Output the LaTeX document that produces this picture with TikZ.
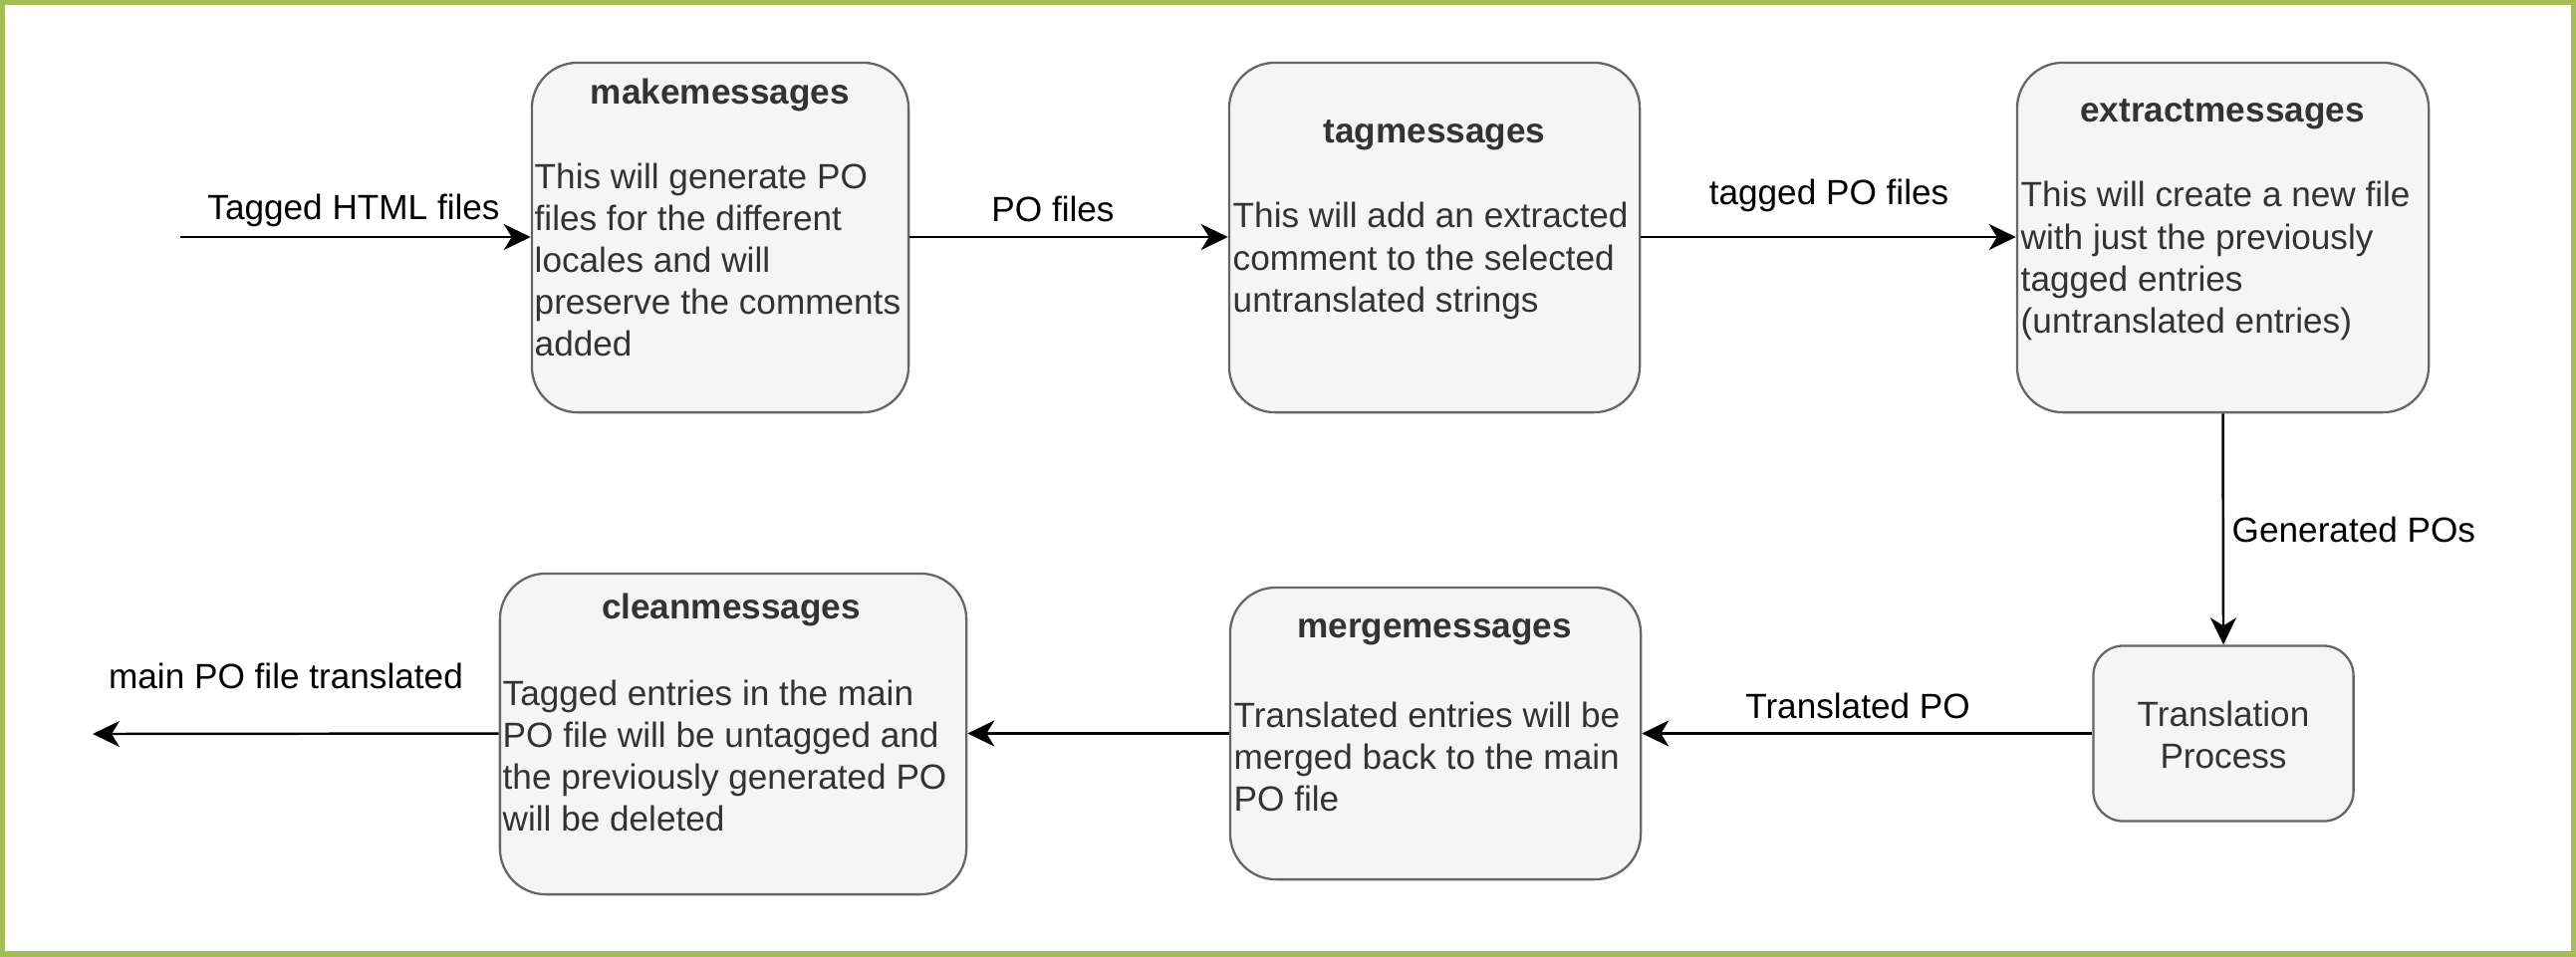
\documentclass[tikz,border=0pt]{standalone}
\usepackage{fontspec}
\setmainfont{Liberation Sans}
\usetikzlibrary{arrows.meta}
\definecolor{frame}{RGB}{162,190,84}
\definecolor{boxfill}{RGB}{245,245,245}
\definecolor{boxline}{RGB}{102,102,102}
\definecolor{boxtext}{RGB}{51,51,51}
\tikzset{
  procbox/.style={draw=boxline, fill=boxfill, line width=0.65pt, rounded corners=0.46cm, inner sep=0pt},
  smallbox/.style={procbox, rounded corners=0.3cm},
  titletext/.style={font=\fontsize{10}{12}\selectfont\bfseries, text=boxtext, inner sep=0pt},
  bodytext/.style={font=\fontsize{10}{12}\selectfont, text=boxtext, align=left, anchor=west, inner sep=0pt},
  centertext/.style={font=\fontsize{10}{12}\selectfont, text=boxtext, align=center, inner sep=0pt},
  edgelabel/.style={font=\fontsize{10}{12}\selectfont, text=black, inner sep=0pt},
  flow/.style={draw=black, line width=0.7pt, -{Stealth[length=0.27cm, width=0.26cm, inset=0.08cm]}}
}
\begin{document}
\begin{tikzpicture}[x=0.01cm, y=-0.01cm]
\useasboundingbox (0,0) rectangle (2586,960);
\draw[frame, line width=1.6pt] (2,2) rectangle (2584,958);

% boxes
\node[procbox, minimum width=3.78cm, minimum height=3.51cm] (make) at (723,238.5) {};
\node[procbox, minimum width=4.12cm, minimum height=3.51cm] (tag) at (1440,238.5) {};
\node[procbox, minimum width=4.13cm, minimum height=3.51cm] (extract) at (2231.5,238.5) {};
\node[smallbox, minimum width=2.61cm, minimum height=1.76cm] (trans) at (2232,736.5) {};
\node[procbox, minimum width=4.12cm, minimum height=2.93cm] (merge) at (1441,736.5) {};
\node[procbox, minimum width=4.68cm, minimum height=3.22cm] (clean) at (736,737) {};

% titles
\node[titletext] (maket) at (723,95) {makemessages};
\node[titletext] (tagt) at (1440,136) {tagmessages};
\node[titletext] (extractt) at (2231,115) {extractmessages};
\node[titletext] (merget) at (1440,635) {mergemessages};
\node[titletext] (cleant) at (734,612) {cleanmessages};

% bodies
\node[bodytext] (makeb) at (536,261) {This will generate PO\\files for the different\\locales and will\\preserve the comments\\added};
\node[bodytext] (tagb) at (1237,262) {This will add an extracted\\comment to the selected\\untranslated strings};
\node[bodytext] (extractb) at (2028,262) {This will create a new file\\with just the previously\\tagged entries\\(untranslated entries)};
\node[centertext] (transb) at (2232,738) {Translation\\Process};
\node[bodytext] (mergeb) at (1238,760) {Translated entries will be\\merged back to the main\\PO file};
\node[bodytext] (cleanb) at (504,759) {Tagged entries in the main\\PO file will be untagged and\\the previously generated PO\\will be deleted};

% connectors
\coordinate (in) at (181,238);
\coordinate (out) at (93,737);
\draw[flow] (in) -- (make.west |- in);
\draw[flow] (make.east |- in) -- (tag.west |- in);
\draw[flow] (tag.east |- in) -- (extract.west |- in);
\draw[flow] (extract.south) -- (trans.north);
\draw[flow] (trans.west) -- (merge.east |- trans.west);
\draw[flow] (merge.west |- trans.west) -- (clean.east |- trans.west);
\draw[flow] (clean.west |- trans.west) -- (out);

% connector labels
\node[edgelabel] (l1) at (355,211) {Tagged HTML files};
\node[edgelabel] (l2) at (1057,210) {PO files};
\node[edgelabel] (l3) at (1836,196) {tagged PO files};
\node[edgelabel, anchor=west] (l4) at (2240,532) {Generated POs};
\node[edgelabel] (l5) at (1865,709) {Translated PO};
\node[edgelabel] (l6) at (287,679) {main PO file translated};
\end{tikzpicture}
\end{document}
